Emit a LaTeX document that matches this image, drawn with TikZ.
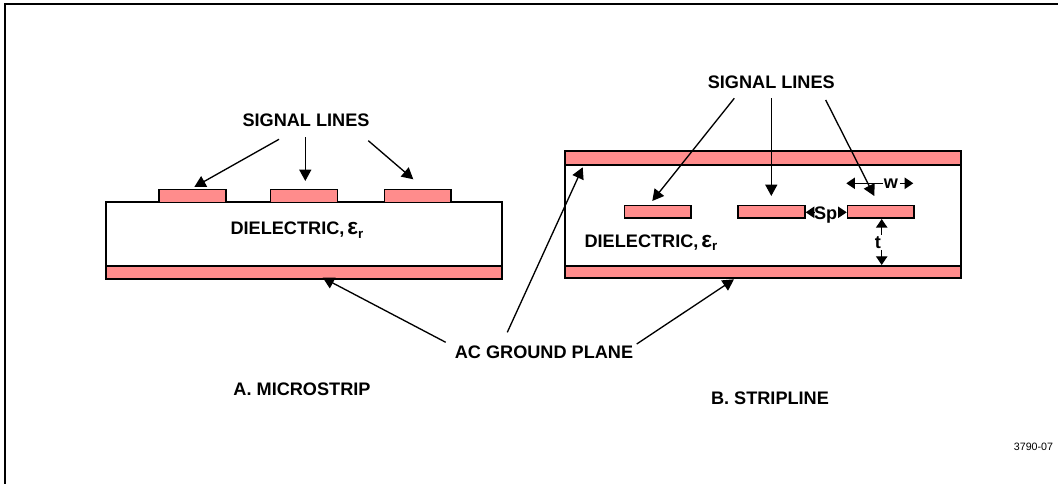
\documentclass[tikz,border=0pt]{standalone}
\usepackage{fontspec}
\setmainfont{Liberation Sans}
\usetikzlibrary{arrows.meta}
\definecolor{copper}{RGB}{255,140,140}
\newcommand{\epsr}{{\fontsize{17}{17}\selectfont ε}\raisebox{-0.4ex}{\fontsize{10}{10}\selectfont r}}
\tikzset{
  lbl/.style={font=\fontsize{13.6}{15}\selectfont\bfseries,inner sep=0pt},
  box/.style={draw,line width=1.1pt,inner sep=0pt,outer sep=0pt},
  strip/.style={box,fill=copper,minimum width=50.2pt,minimum height=9.6pt},
  plane/.style={box,fill=copper,minimum width=297pt},
  arr/.style={line width=1pt,-{Triangle[length=8.5pt,width=9pt]}},
  dim/.style={line width=1pt,-{Triangle[length=6.5pt,width=8.5pt]}}
}
\begin{document}
\begin{tikzpicture}[x=0.75pt,y=-0.75pt]
\useasboundingbox (0,0) rectangle (1058,484);
% frame
\coordinate (fa) at (5,484);
\coordinate (fb) at (5,4);
\coordinate (fc) at (1058,4);
\draw[line width=1.3pt] (fa) -- (fb) -- (fc);

% microstrip
\node[box,minimum width=297pt,minimum height=48pt] (diA) at (304,234) {};
\node[strip] (sa1) at (192.5,196) {};
\node[strip] (sa2) at (304,196) {};
\node[strip] (sa3) at (417.7,196) {};
\node[plane,minimum height=10pt] (gndA) at (304,272.5) {};
\node[lbl] (sigA) at (306,120) {SIGNAL LINES};
\node[lbl] (dieA) at (297,230) {DIELECTRIC,\,\epsr};
\node[lbl] (titA) at (302,389) {A. MICROSTRIP};
\coordinate (a1) at (279,139.3);
\coordinate (b1) at (194.3,187);
\coordinate (a2) at (305.3,137.3);
\coordinate (b2) at (305.3,181);
\coordinate (a3) at (368.3,140.7);
\coordinate (b3) at (413.3,179.3);
\draw[arr] (a1) -- (b1);
\draw[arr] (a2) -- (b2);
\draw[arr] (a3) -- (b3);

% stripline
\node[box,minimum width=297pt,minimum height=90pt] (diB) at (763,214) {};
\node[plane,minimum height=10.2pt] (topB) at (763,158) {};
\node[plane,minimum height=9pt] (gndB) at (763,272) {};
\node[strip] (sb1) at (657.7,211.7) {};
\node[strip] (sb2) at (771.5,211.7) {};
\node[strip] (sb3) at (880.7,211.7) {};
\node[lbl] (sigB) at (771.3,82.7) {SIGNAL LINES};
\node[lbl] (dieB) at (651,242.7) {DIELECTRIC,\,\epsr};
\node[lbl] (titB) at (770,398) {B. STRIPLINE};
\coordinate (c1) at (734.3,98.3);
\coordinate (d1) at (652.3,201);
\coordinate (c2) at (771.3,98.3);
\coordinate (d2) at (771.3,196);
\coordinate (c3) at (825.7,100);
\coordinate (d3) at (874.3,196);
\draw[arr] (c1) -- (d1);
\draw[arr] (c2) -- (d2);
\draw[arr] (c3) -- (d3);

% dimensions
\node[lbl] (w) at (891,184) {w};
\node[lbl] (Sp) at (825.7,215) {Sp};
\node[lbl] (t) at (878,242.7) {t};
\coordinate (wl) at (846.3,183.3);
\coordinate (wr) at (913.3,183.3);
\coordinate (wa) at (883,183.3);
\coordinate (wb) at (900,183.3);
\draw[dim] (wa) -- (wl);
\draw[dim] (wb) -- (wr);
\coordinate (sl) at (805.7,212.3);
\coordinate (sr) at (846.7,212.3);
\coordinate (sa) at (814.5,212.3);
\coordinate (sb) at (838,212.3);
\draw[dim] (sa) -- (sl);
\draw[dim] (sb) -- (sr);
\coordinate (tu) at (881.7,219);
\coordinate (td) at (881.7,265);
\coordinate (ta) at (881.7,235);
\coordinate (tb) at (881.7,250);
\draw[dim] (ta) -- (tu);
\draw[dim] (tb) -- (td);

% ground plane
\node[lbl] (acg) at (544,352.5) {AC GROUND PLANE};
\coordinate (e1) at (445.7,342.3);
\coordinate (f1) at (322.7,277.7);
\coordinate (e2) at (507.3,332.3);
\coordinate (f2) at (582.7,167.3);
\coordinate (e3) at (636.7,344);
\coordinate (f3) at (734,279.3);
\draw[arr] (e1) -- (f1);
\draw[arr] (e2) -- (f2);
\draw[arr] (e3) -- (f3);

\node[font=\fontsize{8}{10}\selectfont,inner sep=0pt] (num) at (1033.5,447) {3790-07};
\end{tikzpicture}
\end{document}
